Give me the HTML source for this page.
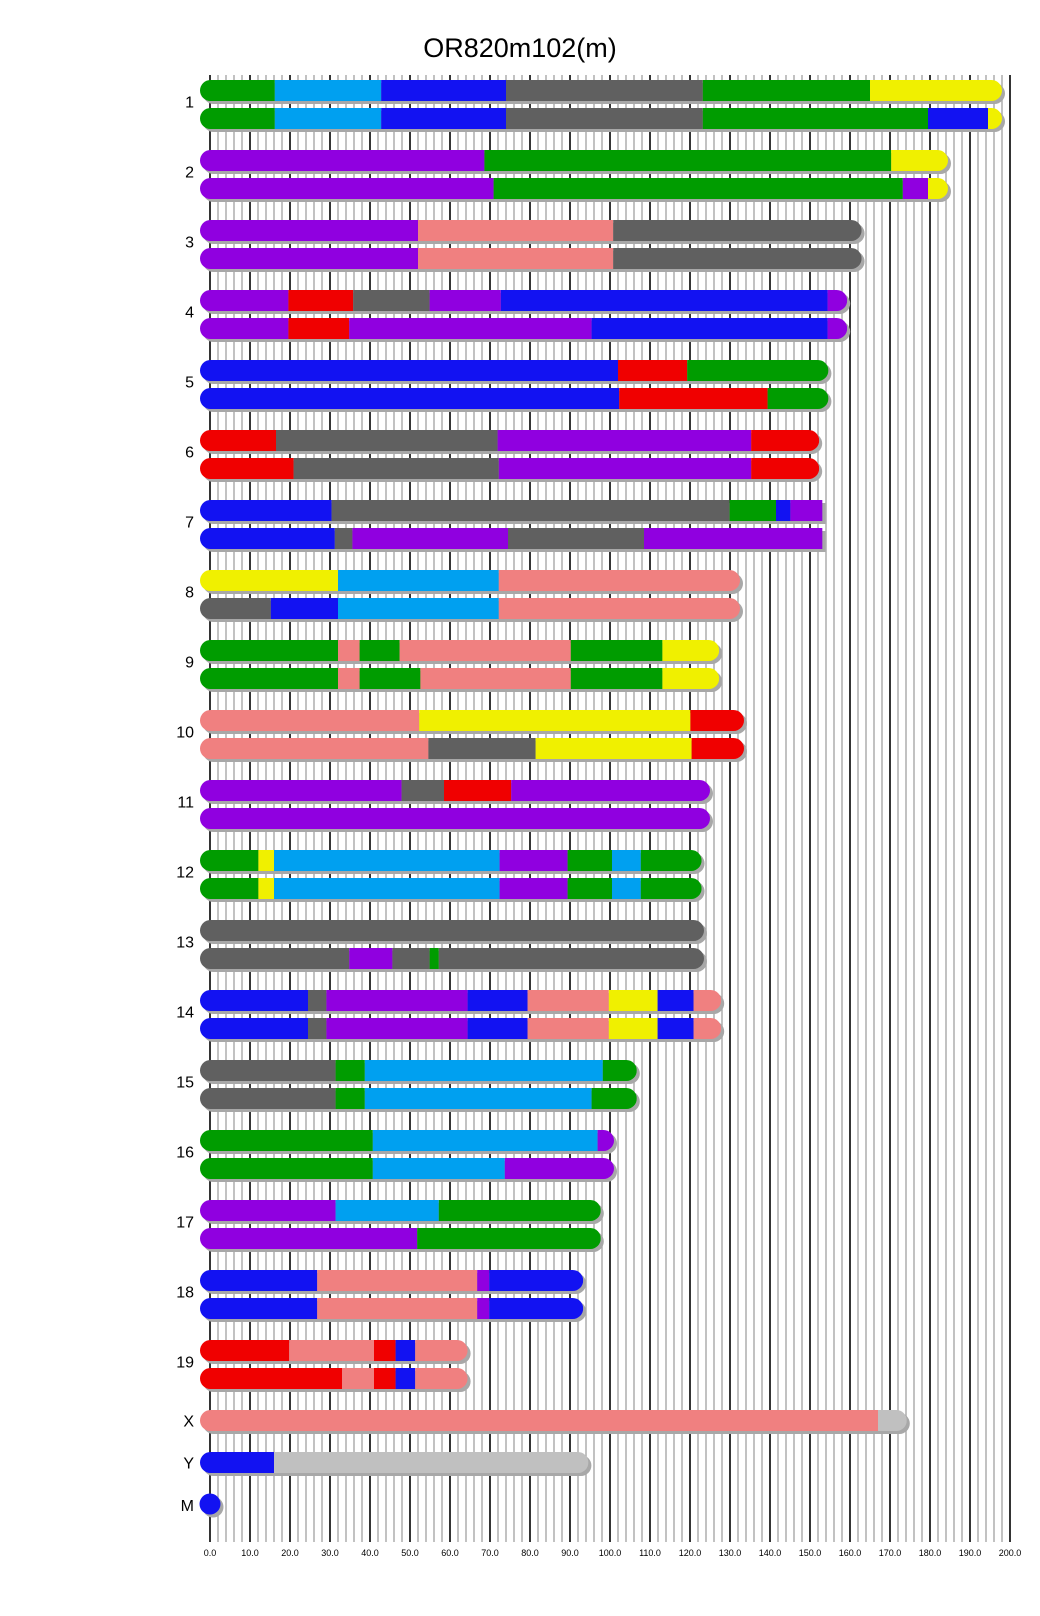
<!DOCTYPE html>
<html><head><meta charset="utf-8"><style>
html,body{margin:0;padding:0;background:#fff;}
svg{display:block;font-family:"Liberation Sans",sans-serif;}
</style></head><body>
<svg id="chart" width="1040" height="1616" viewBox="0 0 1040 1616" xmlns="http://www.w3.org/2000/svg">
<text x="520" y="57" text-anchor="middle" font-size="27" fill="#000">OR820m102(m)</text>
<g id="grid"></g>
<g id="bars"></g>
<g id="axis"></g>
</svg>
<script>
const chromNames = ["1","2","3","4","5","6","7","8","9","10","11","12","13","14","15","16","17","18","19","X","Y","M"];
const chromLengths = [195.5,182,160.4,156.8,152.1,149.8,153.1,130,124.8,131,122.5,120.4,121,125.3,104.2,98.5,95.2,90.8,61.9,171.7,92.1,0];
// each haplotype: list of [segmentEnd, color]
const hap1 = [
 [[16.2,"G"],[42.8,"L"],[74,"B"],[123.2,"K"],[165,"G"],[195.5,"Y"]],
 [[68.6,"P"],[170.3,"G"],[182,"Y"]],
 [[52,"P"],[100.8,"S"],[160.4,"K"]],
 [[19.6,"P"],[35.8,"R"],[54.9,"K"],[72.7,"P"],[154.4,"B"],[156.8,"P"]],
 [[102,"B"],[119.3,"R"],[152.1,"G"]],
 [[16.5,"R"],[71.9,"K"],[135.3,"P"],[149.8,"R"]],
 [[30.4,"B"],[129.9,"K"],[141.5,"G"],[145.1,"B"],[153.1,"P"]],
 [[32,"Y"],[72.2,"L"],[130,"S"]],
 [[32,"G"],[37.4,"S"],[47.4,"G"],[90.2,"S"],[113.1,"G"],[124.8,"Y"]],
 [[52.3,"S"],[120.1,"Y"],[131,"R"]],
 [[47.9,"P"],[58.5,"K"],[75.3,"R"],[122.5,"P"]],
 [[12.1,"G"],[16,"Y"],[72.4,"L"],[89.4,"P"],[100.5,"G"],[107.7,"L"],[120.4,"G"]],
 [[121,"K"]],
 [[24.5,"B"],[29.1,"K"],[64.4,"P"],[79.4,"B"],[99.7,"S"],[111.9,"Y"],[120.9,"B"],[125.3,"S"]],
 [[31.4,"K"],[38.7,"G"],[98.2,"L"],[104.2,"G"]],
 [[40.7,"G"],[96.9,"L"],[98.5,"P"]],
 [[31.4,"P"],[57.2,"L"],[95.2,"G"]],
 [[26.8,"B"],[66.8,"S"],[69.8,"P"],[90.8,"B"]],
 [[19.8,"R"],[41,"S"],[46.4,"R"],[51.3,"B"],[61.9,"S"]],
 [[167,"S"],[171.7,"W"]],
 [[16,"B"],[92.1,"W"]],
 [[0,"B"]]
];
const hap2 = [
 [[16.2,"G"],[42.8,"L"],[74,"B"],[123.2,"K"],[179.5,"G"],[194.5,"B"],[195.5,"Y"]],
 [[70.9,"P"],[173.2,"G"],[179.5,"P"],[182,"Y"]],
 [[52,"P"],[100.8,"S"],[160.4,"K"]],
 [[19.6,"P"],[34.8,"R"],[95.4,"P"],[154.4,"B"],[156.8,"P"]],
 [[102.3,"B"],[139.4,"R"],[152.1,"G"]],
 [[20.9,"R"],[72.2,"K"],[135.3,"P"],[149.8,"R"]],
 [[31.2,"B"],[35.6,"K"],[74.5,"P"],[108.5,"K"],[153.1,"P"]],
 [[15.2,"K"],[32,"B"],[72.2,"L"],[130,"S"]],
 [[32,"G"],[37.4,"S"],[52.6,"G"],[90.2,"S"],[113.1,"G"],[124.8,"Y"]],
 [[54.6,"S"],[81.4,"K"],[120.4,"Y"],[131,"R"]],
 [[122.5,"P"]],
 [[12.1,"G"],[16,"Y"],[72.4,"L"],[89.4,"P"],[100.5,"G"],[107.7,"L"],[120.4,"G"]],
 [[34.8,"K"],[45.6,"P"],[54.9,"K"],[57.2,"G"],[121,"K"]],
 [[24.5,"B"],[29.1,"K"],[64.4,"P"],[79.4,"B"],[99.7,"S"],[111.9,"Y"],[120.9,"B"],[125.3,"S"]],
 [[31.4,"K"],[38.7,"G"],[95.4,"L"],[104.2,"G"]],
 [[40.7,"G"],[73.7,"L"],[98.5,"P"]],
 [[51.8,"P"],[95.2,"G"]],
 [[26.8,"B"],[66.8,"S"],[69.8,"P"],[90.8,"B"]],
 [[33,"R"],[41,"S"],[46.4,"R"],[51.3,"B"],[61.9,"S"]],
 null,null,null
];
const tickValues = [0,10,20,30,40,50,60,70,80,90,100,110,120,130,140,150,160,170,180,190,200];
const colorMap = {G:"#009c00",L:"#00a0f0",B:"#1212f2",K:"#606060",Y:"#f0f000",P:"#9000e0",R:"#f00000",S:"#f08080",W:"#c0c0c0"};
const NS="http://www.w3.org/2000/svg";
function x(v){return 210+v*4;}
function mk(tag,attrs,parent){const e=document.createElementNS(NS,tag);for(const k in attrs)e.setAttribute(k,attrs[k]);parent.appendChild(e);return e;}
const grid=document.getElementById('grid'),bars=document.getElementById('bars'),axis=document.getElementById('axis');
for(let v=0;v<=200;v+=2){
  const major=v%10===0;
  const l=mk('line',{x1:x(v),x2:x(v),y1:75,y2:1542,stroke:major?"#000":"#a8a8a8","stroke-width":major?1.6:1.4},grid);
  
  
}
tickValues.forEach(v=>{
  const t=mk('text',{x:x(v),y:1556,"text-anchor":"middle","font-size":9,fill:"#000"},axis);
  t.textContent=v.toFixed(1);
  
  
});
let clipId=0;
function shapePath(left,right,top,h,sq){
  const r=h/2;
  if(sq){
    return `M${left+r},${top} L${right},${top} L${right},${top+h} L${left+r},${top+h} A${r},${r} 0 0 1 ${left+r},${top} Z`;
  }
  return `M${left+r},${top} L${right-r},${top} A${r},${r} 0 0 1 ${right-r},${top+h} L${left+r},${top+h} A${r},${r} 0 0 1 ${left+r},${top} Z`;
}
function drawBar(segs,L,top,sq){
  const h=21,left=x(0)-10,right=sq?x(L):x(L)+10;
  const sh=mk('path',{d:shapePath(left+3,right+3,top+3,h,sq),fill:"#a8a8a8"},bars);
  
  
  const id='c'+(clipId++);
  const cp=mk('clipPath',{id:id},bars);
  mk('path',{d:shapePath(left,right,top,h,sq)},cp);
  const g=mk('g',{"clip-path":"url(#"+id+")"},bars);
  
  
  let s=0;
  segs.forEach((sg,i)=>{
    const a=i===0?left:x(s), b=i===segs.length-1?right:x(sg[0]);
    const r=mk('rect',{x:a,y:top,width:Math.max(0,b-a),height:h,fill:colorMap[sg[1]]},g);
    
    
    s=sg[0];
  });
}
chromNames.forEach((n,i)=>{
  let top,ly;
  if(i<19){top=80+70*i;ly=top+24.5;}
  else if(n==="X"){top=1410;ly=top+13.5;}
  else if(n==="Y"){top=1452;ly=top+13.5;}
  else {top=1494;ly=1508;}
  const lab=mk('text',{x:194,y:ly+3,"text-anchor":"end","font-size":16,fill:"#000"},bars);
  lab.textContent=n;
  
  
  if(n==="M"){
    const s=mk('circle',{cx:x(0)+3,cy:1507,r:10.5,fill:"#a8a8a8"},bars);
    
    
    const c=mk('circle',{cx:x(0),cy:1504,r:10.5,fill:colorMap[hap1[i][0][1]]},bars);
    
    
    return;
  }
  const sq=(n==="7");
  drawBar(hap1[i],chromLengths[i],top,sq);
  if(hap2[i]) drawBar(hap2[i],chromLengths[i],top+28,sq);
});
</script>
</body></html>
